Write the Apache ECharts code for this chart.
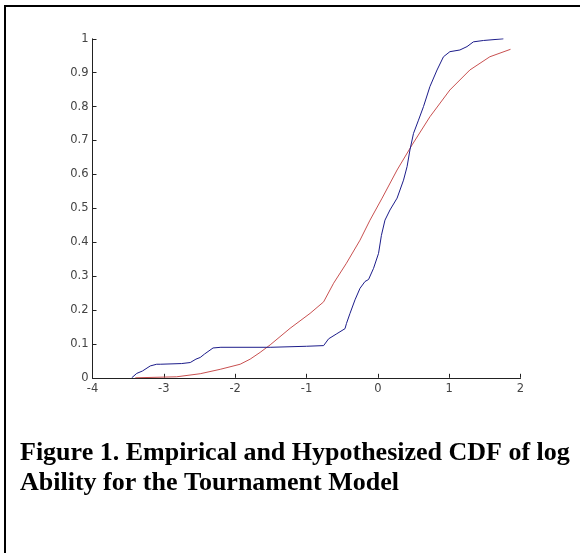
<!DOCTYPE html>
<html>
<head>
<meta charset="utf-8">
<script src="https://cdn.jsdelivr.net/npm/echarts@6/dist/echarts.min.js"></script>
<style>
html,body{margin:0;padding:0;background:#fff;}
#chart{width:580px;height:553px;}
</style>
</head>
<body>
<div id="chart"></div>
<script>
// Empirical CDF (blue)
const empX = [-3.45,-3.38,-3.30,-3.19,-3.10,-3.05,-2.75,-2.63,-2.55,-2.49,-2.43,-2.31,-2.2,-1.5,-1.0,-0.76,-0.69,-0.575,-0.46,-0.44,-0.39,-0.32,-0.25,-0.18,-0.13,-0.06,0.01,0.05,0.10,0.17,0.27,0.36,0.41,0.45,0.50,0.57,0.64,0.73,0.83,0.92,1.01,1.15,1.25,1.34,1.48,1.76];
const empY = [0,0.013,0.02,0.035,0.04,0.04,0.042,0.045,0.055,0.06,0.07,0.088,0.09,0.09,0.093,0.095,0.115,0.13,0.145,0.16,0.19,0.23,0.264,0.284,0.29,0.323,0.367,0.42,0.465,0.495,0.53,0.583,0.623,0.672,0.721,0.76,0.80,0.859,0.908,0.947,0.962,0.967,0.977,0.991,0.995,1.0];
// Hypothesized CDF (red)
const hypX = [-3.4,-2.82,-2.49,-2.21,-1.93,-1.79,-1.65,-1.51,-1.23,-0.95,-0.76,-0.62,-0.44,-0.25,-0.11,0.06,0.27,0.48,0.73,1.01,1.29,1.57,1.86];
const hypY = [0,0.003,0.012,0.025,0.04,0.055,0.075,0.097,0.146,0.19,0.224,0.279,0.338,0.406,0.465,0.53,0.613,0.687,0.77,0.849,0.908,0.947,0.969];
const captionLines = ["Figure 1. Empirical and Hypothesized CDF of log", "Ability for the Tournament Model"];

const zip = (a,b) => a.map((v,i)=>[v,b[i]]);
const chart = echarts.init(document.getElementById('chart'), null, {renderer:'canvas'});
const axisLineStyle = {show:true,onZero:false,lineStyle:{color:'#222',width:1}};
const tickStyle = {show:true,inside:true,length:4,lineStyle:{color:'#222'}};
const labelStyle = {color:'#444',fontFamily:'DejaVu Sans',fontSize:11.5};
chart.setOption({
  animation:false,
  backgroundColor:'#fff',
  grid:{left:92.5,top:38.8,width:428,height:339,containLabel:false},
  xAxis:{type:'value',min:-4,max:2,interval:1,axisLine:axisLineStyle,axisTick:tickStyle,splitLine:{show:false},
         axisLabel:Object.assign({},labelStyle,{margin:5})},
  yAxis:{type:'value',min:0,max:1,interval:0.1,axisLine:axisLineStyle,axisTick:tickStyle,splitLine:{show:false},
         axisLabel:Object.assign({},labelStyle,{margin:4,formatter:v=>String(Math.round(v*10)/10)})},
  series:[
    {type:'line',data:zip(empX,empY),showSymbol:false,lineStyle:{color:'#1c1c8a',width:1},z:3},
    {type:'line',data:zip(hypX,hypY),showSymbol:false,lineStyle:{color:'#c85050',width:1},z:2}
  ],
  graphic:[
    {type:'line',shape:{x1:4,y1:6,x2:580,y2:6},style:{stroke:'#000',lineWidth:2}},
    {type:'line',shape:{x1:5,y1:5,x2:5,y2:553},style:{stroke:'#000',lineWidth:2}},
    {type:'text',left:20,top:438,style:{text:captionLines.join('\n'),font:'bold 26px "Liberation Serif", "Times New Roman", serif',lineHeight:30,fill:'#000'}}
  ]
});
</script>
</body>
</html>
